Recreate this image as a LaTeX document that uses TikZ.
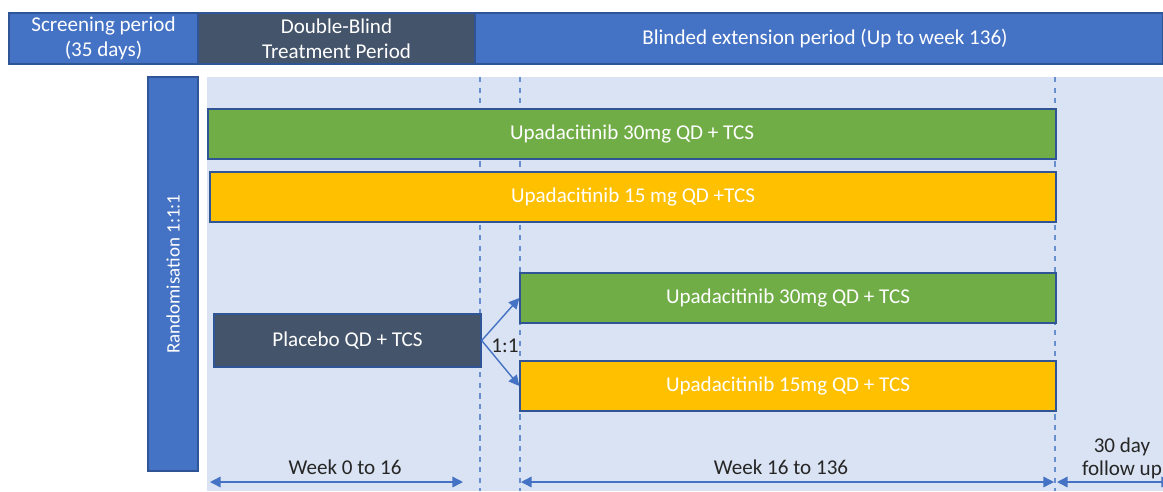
\documentclass[tikz,border=0pt]{standalone}
\usepackage{fontspec}
\setmainfont{Carlito}
\usepackage{tikz}
\usetikzlibrary{calc, arrows.meta}

\definecolor{hdrblue}{HTML}{4472C4}
\definecolor{hdrdark}{HTML}{44546A}
\definecolor{panelblue}{HTML}{DAE3F3}
\definecolor{armgreen}{HTML}{70AD47}
\definecolor{armyellow}{HTML}{FFC000}
\definecolor{edgeblue}{HTML}{2F5597}
\definecolor{txtdark}{HTML}{262626}

\tikzset{
	bar/.style = {draw = edgeblue, line width = 0.8pt, text = white, inner sep = 0pt, font = \fontsize{12}{14}\selectfont},
	hdr/.style = {bar, align = center, minimum height = 1.02cm},
	lbl/.style = {text = txtdark, inner sep = 0pt, align = center, font = \fontsize{12}{13}\selectfont},
	wk/.style = {draw = hdrblue!80, dashed, line width = 0.6pt},
	span/.style = {draw = hdrblue, line width = 0.8pt, {Triangle[length = 6pt, width = 6pt]}-{Triangle[length = 6pt, width = 6pt]}},
	split/.style = {draw = hdrblue, line width = 0.8pt, -{Triangle[length = 6pt, width = 6pt]}}
}

\begin{document}
\begin{tikzpicture}[x = 0.02cm, y = -0.02cm]
		\def\xMIN{0};
		\def\xMAX{1163};
		\def\yMIN{0};
		\def\yMAX{491};

		\useasboundingbox (\xMIN,\yMIN) rectangle (\xMAX,\yMAX);

		\fill [panelblue] (207,77) rectangle (\xMAX,\yMAX);

		\node [hdr, fill = hdrblue, minimum width = 3.78cm] (screen) at (103.5,38.5) {Screening period\\(35 days)};
		\node [hdr, fill = hdrdark, minimum width = 5.54cm] (dblind) at (336.5,38.5) {Double-Blind\\Treatment Period};
		\node [hdr, fill = hdrblue, minimum width = 13.76cm] (ext) at (819,38.5) {\hspace{0.24cm}Blinded extension period (Up to week 136)};

		\foreach \x in {480, 520, 1055}
			\draw [wk] (\x,77) -- (\x,\yMAX);

		\node [bar, fill = hdrblue, rotate = 90, minimum width = 7.88cm, minimum height = 1cm, font = \fontsize{10.8}{13}\selectfont] (rand) at (173,274) {Randomisation 1:1:1};

		\node [bar, fill = armgreen, minimum width = 16.96cm, minimum height = 1cm] (upa30) at (632,134) {Upadacitinib 30mg QD + TCS};
		\node [bar, fill = armyellow, minimum width = 16.92cm, minimum height = 1cm] (upa15) at (633,197) {Upadacitinib 15 mg QD +TCS};

		\node [bar, fill = hdrdark, minimum width = 5.34cm, minimum height = 1.06cm] (pbo) at (347.5,340.5) {Placebo QD + TCS};
		\node [bar, fill = armgreen, minimum width = 10.72cm, minimum height = 1cm] (pbo30) at (788,298) {Upadacitinib 30mg QD + TCS};
		\node [bar, fill = armyellow, minimum width = 10.72cm, minimum height = 1cm] (pbo15) at (788,386) {Upadacitinib 15mg QD + TCS};

		\draw [split] (pbo.east) -- (pbo30.west);
		\draw [split] (pbo.east) -- (pbo15.west);
		\node [lbl] (ratio) at (505,346) {1:1};

		\coordinate (W0) at (210,482);
		\coordinate (W16a) at (463,482);
		\coordinate (W16b) at (521,482);
		\coordinate (W136) at (1054,482);
		\coordinate (F0) at (1057,482);
		\coordinate (F30) at (1172,482);

		\draw [span] (W0) -- (W16a);
		\draw [span] (W16b) -- (W136);
		\draw [span] (F0) -- (F30);

		\node [lbl] (wk16) at (345,467) {Week 0 to 16};
		\node [lbl] (wk136) at (781,467) {Week 16 to 136};
		\node [lbl] (fup) at (1122,458) {30 day\\follow up};
	\end{tikzpicture}
\end{document}
